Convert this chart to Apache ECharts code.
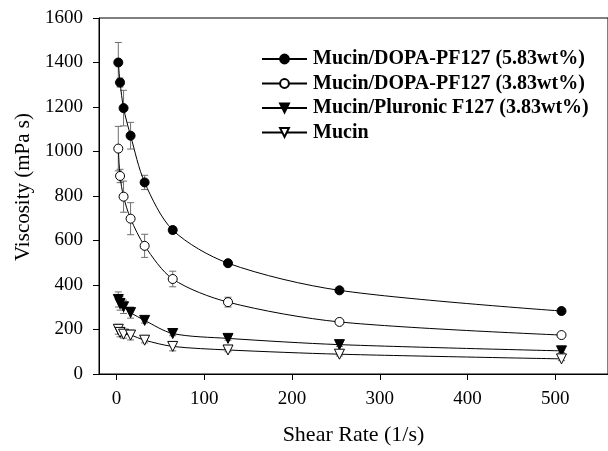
<!DOCTYPE html>
<html>
<head>
<meta charset="utf-8">
<script src="https://cdn.jsdelivr.net/npm/echarts@6/dist/echarts.min.js"></script>
<style>
html, body { margin: 0; padding: 0; background: #fff; }
#chart { width: 608px; height: 451px; }
</style>
</head>
<body>
<div id="chart"></div>
<script>
// shear rate (1/s), shared by every series
const shearRate = [2, 4, 8, 16, 32, 64, 127, 254, 507]

// viscosity (mPa s) and error (+/-)
const dopa583 = [1400, 1310, 1195, 1071, 861, 647, 498, 376, 283]
const dopa583Err = [90, 20, 80, 60, 32, 15, 10, 8, 8]
const dopa383 = [1013, 890, 797, 698, 576, 427, 323, 234, 175]
const dopa383Err = [100, 30, 70, 72, 52, 35, 22, 12, 8]
const pluronic383 = [335, 317, 302, 276, 241, 182, 160, 132, 104]
const pluronic383Err = [34, 30, 30, 25, 12, 10, 8, 8, 8]
const mucin = [201, 187, 179, 175, 152, 124, 108, 89, 68]
const mucinErr = [22, 20, 18, 22, 12, 20, 8, 8, 8]

const names = [
    'Mucin/DOPA-PF127 (5.83wt%)',
    'Mucin/DOPA-PF127 (3.83wt%)',
    'Mucin/Pluronic F127 (3.83wt%)',
    'Mucin',
]
const xTicks = [0, 100, 200, 300, 400, 500]

const serif = '"Liberation Serif", "Times New Roman", serif'

const pts = (vals) => shearRate.map((x, i) => [x, vals[i]])
const errPts = (vals, errs) => shearRate.map((x, i) => [x, vals[i], errs[i]])

// vertical error bar with small caps
function errorBar(params, api) {
    const x = api.value(0)
    const y = api.value(1)
    const e = api.value(2)
    const top = api.coord([x, y + e])
    const bot = api.coord([x, y - e])
    const w = 3.5
    const st = { stroke: '#6e6e6e', lineWidth: 1 }
    return {
        type: 'group',
        children: [
            { type: 'line', shape: { x1: top[0], y1: top[1], x2: bot[0], y2: bot[1] }, style: st },
            { type: 'line', shape: { x1: top[0] - w, y1: top[1], x2: top[0] + w, y2: top[1] }, style: st },
            { type: 'line', shape: { x1: bot[0] - w, y1: bot[1], x2: bot[0] + w, y2: bot[1] }, style: st },
        ],
    }
}

const errSeries = (vals, errs) => ({
    type: 'custom',
    renderItem: errorBar,
    data: errPts(vals, errs),
    z: 1,
    silent: true,
})

const lineSeries = (name, vals, symbol, fill, size, rotate) => ({
    name: name,
    type: 'line',
    data: pts(vals),
    smooth: 0.3,
    symbol: symbol,
    symbolSize: size,
    symbolRotate: rotate,
    showAllSymbol: true,
    lineStyle: { color: '#000', width: 1 },
    itemStyle: { color: fill, borderColor: '#000', borderWidth: 1 },
    z: 3,
})

const option = {
    animation: false,
    backgroundColor: '#fff',
    grid: {
        left: 99,
        right: -12,
        top: 18,
        bottom: 73,
        show: true,
        borderColor: '#000',
        borderWidth: 1,
    },
    legend: {
        data: names,
        orient: 'vertical',
        left: 256,
        top: 44,
        itemWidth: 45,
        itemHeight: 11,
        itemGap: 4.5,
        textStyle: {
            fontFamily: serif,
            fontSize: 20,
            fontWeight: 'bold',
            color: '#000',
            padding: [0, 0, 0, 1],
        },
    },
    xAxis: {
        type: 'value',
        min: -20,
        max: 560,
        name: 'Shear Rate (1/s)',
        nameLocation: 'middle',
        nameGap: 50,
        nameTextStyle: { fontFamily: serif, fontSize: 22, color: '#000' },
        axisLine: { onZero: false, lineStyle: { color: '#000', width: 1 } },
        axisTick: { length: 6, customValues: xTicks, lineStyle: { color: '#000' } },
        axisLabel: { customValues: xTicks, margin: 16, fontFamily: serif, fontSize: 19, color: '#000' },
        splitLine: { show: false },
    },
    yAxis: {
        type: 'value',
        min: 0,
        max: 1600,
        interval: 200,
        name: 'Viscosity (mPa s)',
        nameLocation: 'middle',
        nameGap: 61,
        nameTextStyle: { fontFamily: serif, fontSize: 21, color: '#000', padding: [0, 0, 0, 18] },
        axisLine: { show: true, onZero: false, lineStyle: { color: '#000', width: 1 } },
        axisTick: { show: true, length: 6, lineStyle: { color: '#000' } },
        axisLabel: {
            margin: 16,
            fontFamily: serif,
            fontSize: 19,
            color: '#000',
            formatter: (v) => String(v),
        },
        splitLine: { show: false },
    },
    series: [
        errSeries(dopa583, dopa583Err),
        errSeries(dopa383, dopa383Err),
        errSeries(pluronic383, pluronic383Err),
        errSeries(mucin, mucinErr),
        lineSeries(names[0], dopa583, 'circle', '#000', 9, 0),
        lineSeries(names[1], dopa383, 'circle', '#fff', 9, 0),
        lineSeries(names[2], pluronic383, 'triangle', '#000', 10, 180),
        lineSeries(names[3], mucin, 'triangle', '#fff', 10, 180),
    ],
}

const myChart = echarts.init(document.getElementById('chart'))
myChart.setOption(option)
</script>
</body>
</html>
